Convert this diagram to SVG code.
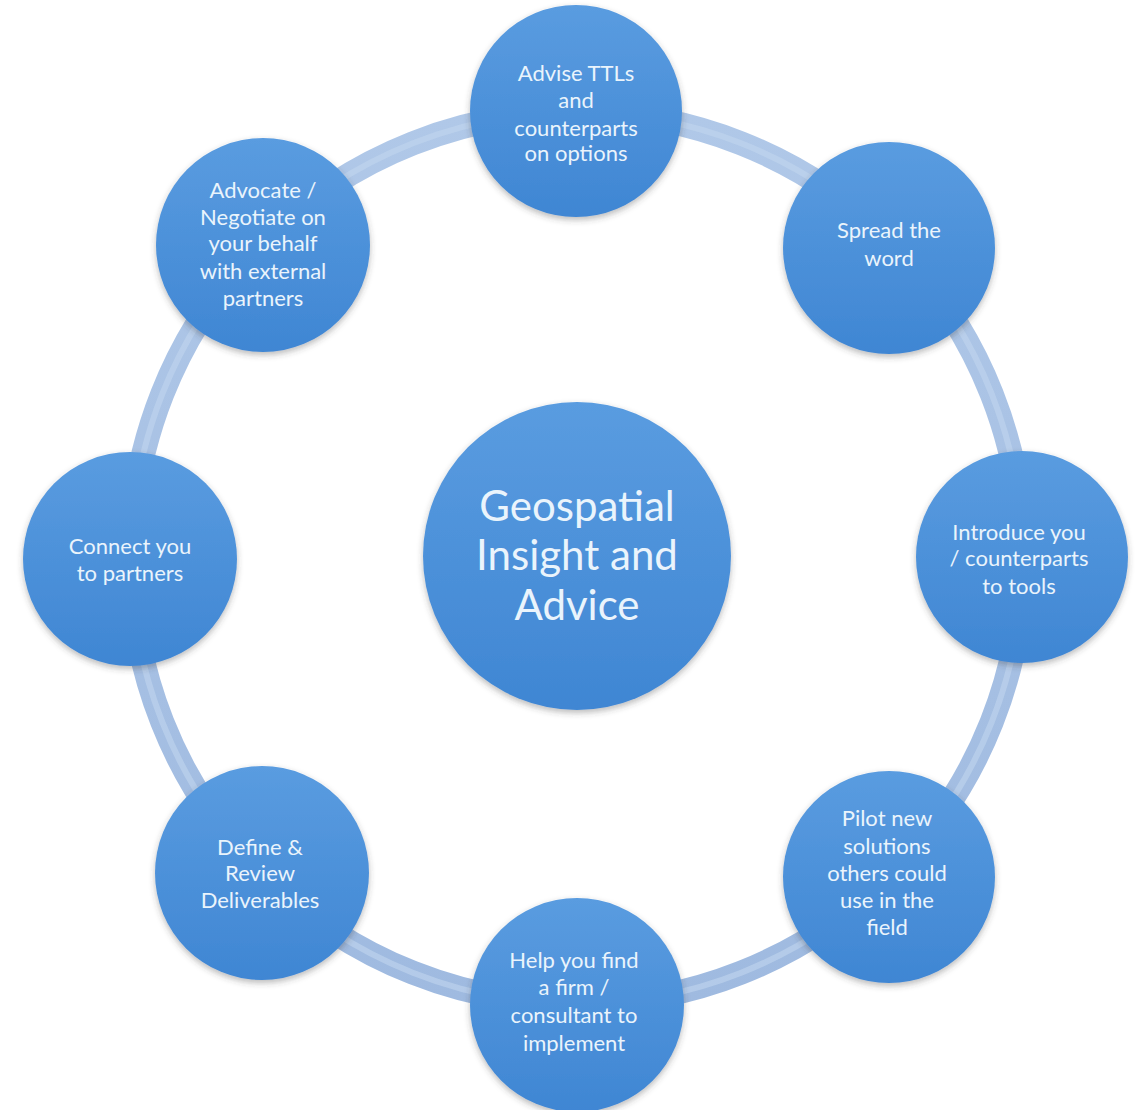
<svg xmlns="http://www.w3.org/2000/svg" width="1141" height="1110" viewBox="0 0 1141 1110">
  <defs>
    <linearGradient id="nodeFill" x1="0" y1="0" x2="0" y2="1">
      <stop offset="0" stop-color="#5a9ce0"/>
      <stop offset="1" stop-color="#3f86d3"/>
    </linearGradient>
    <linearGradient id="ringFill" x1="0" y1="0" x2="0" y2="1">
      <stop offset="0" stop-color="#b0c8e8"/>
      <stop offset="1" stop-color="#9fbae0"/>
    </linearGradient>
    <filter id="shadow" x="-20%" y="-20%" width="140%" height="140%">
      <feDropShadow dx="0" dy="3" stdDeviation="3" flood-color="#3a3a3a" flood-opacity="0.35"/>
    </filter>
  </defs>
  <style>
    .node { fill: url(#nodeFill); filter: url(#shadow); }
    .lbl { font-family: Lato, "Open Sans", "Liberation Sans", sans-serif; font-size: 22px; fill: #eaf4fc; text-anchor: middle; }
    .big { font-family: Lato, "Open Sans", "Liberation Sans", sans-serif; font-size: 42px; fill: #eaf4fc; text-anchor: middle; }
  </style>
  <rect width="1141" height="1110" fill="#ffffff"/>
  <g id="connectors">
    <circle cx="577" cy="558" r="446" fill="none" stroke="url(#ringFill)" stroke-width="24"/>
    <circle cx="577" cy="558" r="446" fill="none" stroke="#c2d5ee" stroke-width="6" opacity="0.6"/>
  </g>
  <g id="center">
    <circle class="node" cx="577" cy="556" r="154"/>
    <text class="big" x="577" y="521">Geospatial</text>
    <text class="big" x="577" y="570">Insight and</text>
    <text class="big" x="577" y="620">Advice</text>
  </g>
  <g id="n-top">
    <circle class="node" cx="576" cy="111" r="106"/>
    <text class="lbl" x="576" y="81">Advise TTLs</text>
    <text class="lbl" x="576" y="108">and</text>
    <text class="lbl" x="576" y="136">counterparts</text>
    <text class="lbl" x="576" y="161">on options</text>
  </g>
  <g id="n-upper-right">
    <circle class="node" cx="889" cy="248" r="106"/>
    <text class="lbl" x="889" y="238">Spread the</text>
    <text class="lbl" x="889" y="266">word</text>
  </g>
  <g id="n-right">
    <circle class="node" cx="1022" cy="557" r="106"/>
    <text class="lbl" x="1019" y="540">Introduce you</text>
    <text class="lbl" x="1019" y="566">/ counterparts</text>
    <text class="lbl" x="1019" y="594">to tools</text>
  </g>
  <g id="n-lower-right">
    <circle class="node" cx="889" cy="877" r="106"/>
    <text class="lbl" x="887" y="826">Pilot new</text>
    <text class="lbl" x="887" y="854">solutions</text>
    <text class="lbl" x="887" y="881">others could</text>
    <text class="lbl" x="887" y="908">use in the</text>
    <text class="lbl" x="887" y="935">field</text>
  </g>
  <g id="n-bottom">
    <circle class="node" cx="577" cy="1005" r="107"/>
    <text class="lbl" x="574" y="968">Help you find</text>
    <text class="lbl" x="574" y="995">a firm /</text>
    <text class="lbl" x="574" y="1023">consultant to</text>
    <text class="lbl" x="574" y="1051">implement</text>
  </g>
  <g id="n-lower-left">
    <circle class="node" cx="262" cy="873" r="107"/>
    <text class="lbl" x="260" y="855">Define &amp;</text>
    <text class="lbl" x="260" y="881">Review</text>
    <text class="lbl" x="260" y="908">Deliverables</text>
  </g>
  <g id="n-left">
    <circle class="node" cx="130" cy="559" r="107"/>
    <text class="lbl" x="130" y="554">Connect you</text>
    <text class="lbl" x="130" y="581">to partners</text>
  </g>
  <g id="n-upper-left">
    <circle class="node" cx="263" cy="245" r="107"/>
    <text class="lbl" x="263" y="198">Advocate /</text>
    <text class="lbl" x="263" y="225">Negotiate on</text>
    <text class="lbl" x="263" y="251">your behalf</text>
    <text class="lbl" x="263" y="279">with external</text>
    <text class="lbl" x="263" y="306">partners</text>
  </g>
</svg>
